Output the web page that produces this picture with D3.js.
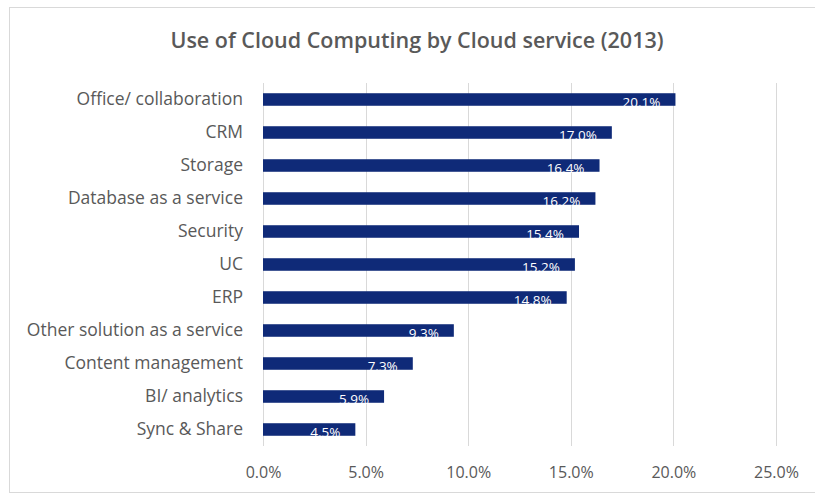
<!DOCTYPE html>
<html>
<head>
<meta charset="utf-8">
<script src="https://cdn.jsdelivr.net/npm/d3@7/dist/d3.min.js"></script>
<style>
  html, body { margin: 0; padding: 0; background: #fff; }
  svg { display: block; }
</style>
</head>
<body>
<script>
// Share of companies using each cloud service, 2013
const services = [
  "Office/ collaboration", "CRM", "Storage", "Database as a service",
  "Security", "UC", "ERP", "Other solution as a service",
  "Content management", "BI/ analytics", "Sync & Share"
];
const shares = [20.1, 17.0, 16.4, 16.2, 15.4, 15.2, 14.8, 9.3, 7.3, 5.9, 4.5];
const tickValues = [0, 5, 10, 15, 20, 25];
const title = "Use of Cloud Computing by Cloud service (2013)";

const W = 815, H = 495;
const margin = { left: 263, top: 83, bottom: 446 };
const font = "'Open Sans', 'Liberation Sans', sans-serif";
const textColor = "#595959";
const barColor = "#0f2a78";

const svg = d3.select("body").append("svg")
  .attr("width", W).attr("height", H);

// chart frame
svg.append("rect")
  .attr("x", 9.5).attr("y", 7.5).attr("width", W + 10).attr("height", 485)
  .attr("fill", "#fff").attr("stroke", "#d9d9d9").attr("stroke-width", 1);

svg.append("text")
  .attr("x", 417).attr("y", 48)
  .attr("text-anchor", "middle")
  .attr("font-family", font).attr("font-size", 21.5).attr("font-weight", 600)
  .attr("fill", textColor)
  .text(title);

const x = d3.scaleLinear().domain([0, 25]).range([margin.left, 776]);
const y = d3.scaleBand().domain(services)
  .range([margin.top, margin.bottom]).paddingInner(0.62).paddingOuter(0.31);

// vertical gridlines
svg.append("g").selectAll("line").data(tickValues).join("line")
  .attr("x1", d => Math.round(x(d)) + 0.5).attr("x2", d => Math.round(x(d)) + 0.5)
  .attr("y1", margin.top).attr("y2", margin.bottom)
  .attr("stroke", "#d9d9d9").attr("stroke-width", 1);

// x axis labels
const xAxis = d3.axisBottom(x).tickValues(tickValues)
  .tickFormat(d => d.toFixed(1) + "%").tickSize(0).tickPadding(0);
const gx = svg.append("g").attr("transform", "translate(0,478)").call(xAxis);
gx.select(".domain").remove();
gx.selectAll("text")
  .attr("font-family", font).attr("font-size", 16).attr("fill", textColor)
  .attr("y", 0).attr("dy", 0);

// category labels
const yAxis = d3.axisLeft(y).tickSize(0).tickPadding(20);
const gy = svg.append("g").attr("transform", `translate(${margin.left},0)`).call(yAxis);
gy.select(".domain").remove();
gy.selectAll("text")
  .attr("font-family", font).attr("font-size", 17.5).attr("fill", textColor);

// bars
svg.append("g").selectAll("rect").data(shares).join("rect")
  .attr("x", x(0))
  .attr("y", (d, i) => y(services[i]))
  .attr("width", d => x(d) - x(0))
  .attr("height", y.bandwidth())
  .attr("fill", barColor);

// value labels inside the bar ends
svg.append("g").selectAll("text").data(shares).join("text")
  .attr("x", d => x(d) - 15)
  .attr("y", (d, i) => y(services[i]) + y.bandwidth() + 1.5)
  .attr("text-anchor", "end")
  .attr("font-family", font).attr("font-size", 13.5).attr("fill", "#fff")
  .text(d => d.toFixed(1) + "%");
</script>
</body>
</html>
